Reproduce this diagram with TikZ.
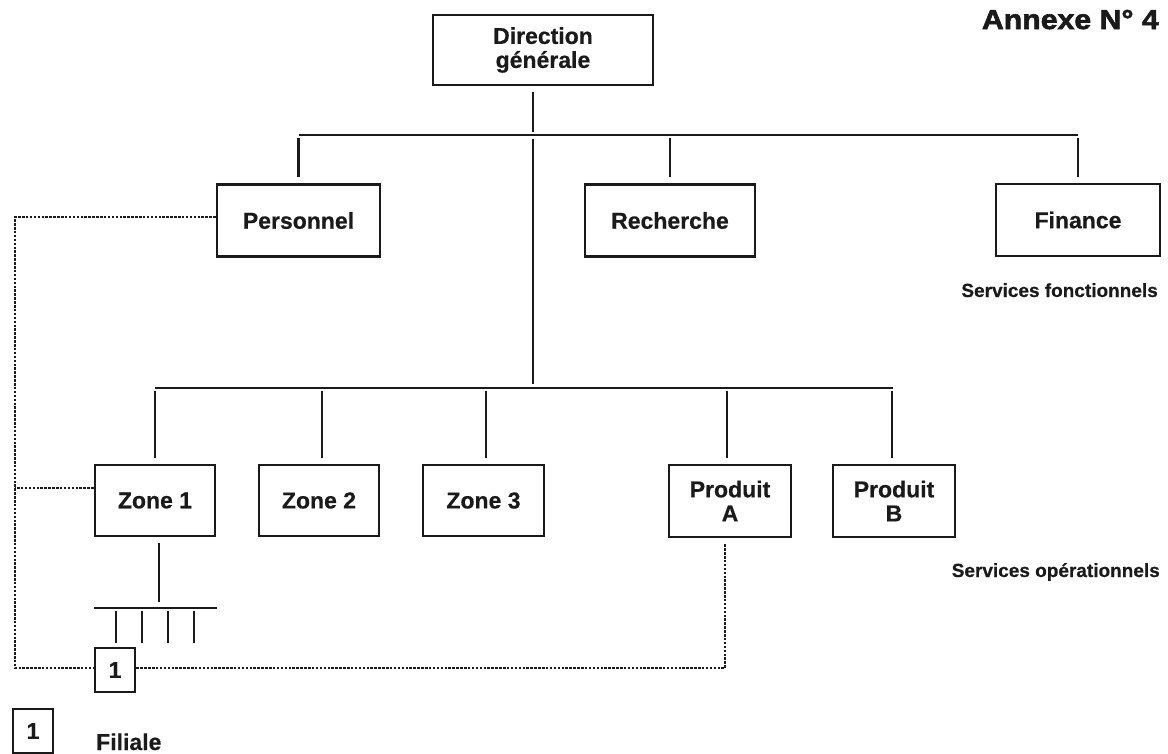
\documentclass[tikz,border=0pt]{standalone}
\usepackage{fontspec}
\setmainfont{Liberation Sans}[BoldFeatures={FakeBold=0.5}]
\newfontface\heavyface{Liberation Sans Bold}[FakeBold=2.2,FakeStretch=1.1]
\definecolor{ink}{HTML}{1A1A1A}
\newcommand\orgboxfont{\fontsize{23}{24}\selectfont\bfseries}
\newcommand\orglabelfont{\fontsize{19}{20}\selectfont\bfseries}
\tikzset{
  box/.style={draw=ink, line width=2.8pt, fill=white, align=center, inner sep=0pt,
              font=\orgboxfont, text=ink, minimum height=72pt},
  link/.style={draw=ink, line width=2.6pt},
  dotlink/.style={draw=ink, line width=2.3pt, dash pattern=on 2.5pt off 1.4pt},
  caption/.style={font=\orglabelfont, text=ink, inner sep=0pt}
}
\begin{document}
\begin{tikzpicture}[x=1pt,y=-1pt]
\useasboundingbox (0,0) rectangle (1168,753);

% head office
\node[box, minimum width=220pt, minimum height=70pt] (dg) at (543,50) {Direction\\générale};
\node[anchor=base east, inner sep=0pt, text=ink, font=\fontsize{27.5}{28}\heavyface] (annexe) at (1159,29) {Annexe N° 4};

% functional services
\node[box, minimum width=163pt] (pers) at (298.5,220.5) {Personnel};
\node[box, minimum width=170pt] (rech) at (670,220.5) {Recherche};
\node[box, minimum width=164pt] (fin) at (1078,220) {Finance};
\node[caption, anchor=base east] (sf) at (1158,297) {Services fonctionnels};

% operational services
\node[box, minimum width=120pt, minimum height=71pt] (z1) at (155,500.5) {Zone 1};
\node[box, minimum width=120pt, minimum height=71pt] (z2) at (319,500.5) {Zone 2};
\node[box, minimum width=121pt, minimum height=71pt] (z3) at (483.5,500.5) {Zone 3};
\node[box, minimum width=122pt, minimum height=72pt] (pa) at (730,501) {Produit\\A};
\node[box, minimum width=122pt, minimum height=72pt] (pb) at (894,501) {Produit\\B};
\node[caption, anchor=base east] (so) at (1160,577) {Services opérationnels};

% subsidiary and legend
\node[box, minimum width=40pt, minimum height=44pt] (f1) at (115,670) {1};
\node[box, minimum width=40pt, minimum height=44pt] (leg) at (33,731) {1};
\node[anchor=base west, inner sep=0pt, text=ink, font=\orgboxfont] (fil) at (96,750) {Filiale};

% bars and rail
\coordinate (tb) at (533,135);
\coordinate (bb) at (533,388);
\coordinate (comb) at (155,608);
\coordinate (rail) at (15,668);

% hierarchy lines
\draw[link] ([yshift=-6pt]dg.south -| tb) -- ([yshift=3pt]tb);
\draw[link] (pers.north |- tb) -- (fin.north |- tb);
\draw[link] ([yshift=-4pt]tb) -- ([yshift=4pt]bb);
\foreach \n in {pers,rech,fin}
  \draw[link] ([yshift=-3pt]\n.north |- tb) -- ([yshift=6pt]\n.north);
\draw[link] (z1.north |- bb) -- ([xshift=-1pt]pb.north |- bb);
\foreach \n/\dx in {z1/0,z2/3,z3/2.5,pa/-3,pb/-2}
  \draw[link] ([xshift=\dx pt,yshift=-3pt]\n.north |- bb) -- ([xshift=\dx pt,yshift=6pt]\n.north);

% branches under Zone 1
\draw[link] ([xshift=4pt,yshift=-6pt]z1.south) -- ([xshift=4pt,yshift=6pt]comb);
\draw[link] (z1.west |- comb) -- ([xshift=1pt]z1.east |- comb);
\foreach \dx in {-39,-13,13,39}
  \draw[link] ([xshift=\dx pt,yshift=-3pt]comb) -- ++(0,32);

% dotted links to the subsidiary
\draw[dotlink] ([yshift=3.5pt]pers.west) -| (rail) -- (rail -| f1.west);
\draw[dotlink] ([yshift=12.5pt]z1.west) -- ([yshift=12.5pt]z1.west -| rail);
\draw[dotlink] (rail -| f1.east) -| ([xshift=-5pt,yshift=-6pt]pa.south);
\end{tikzpicture}
\end{document}
